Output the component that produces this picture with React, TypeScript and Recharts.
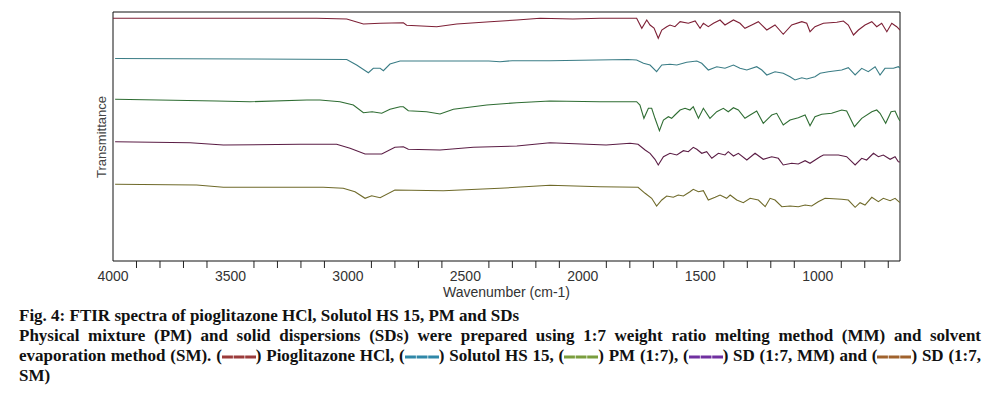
import { LineChart, Line, XAxis, YAxis, ReferenceArea } from 'recharts'

// wavenumber (cm-1), transmittance (arbitrary, spectra stacked)
const pioglitazoneHCl: [number, number][] = [
  [4000, 242.7], [3630, 242.7], [3133, 242.7], [3005, 242], [2934, 237], [2863, 237.7],
  [2764, 238.3], [2750, 235.7], [2622, 234.3], [2537, 237], [2395, 239.3], [2281, 241],
  [2182, 242.7], [2042, 242], [1927, 242.7], [1771, 242.7], [1749, 232.7], [1728, 241],
  [1714, 236], [1697, 233], [1679, 222.7], [1664, 231], [1643, 234.3], [1629, 236],
  [1608, 234.3], [1586, 239.3], [1551, 237.7], [1522, 240], [1501, 232.7], [1487, 237.7],
  [1466, 234.3], [1444, 237.7], [1416, 241], [1395, 236], [1359, 241], [1331, 237.7],
  [1310, 232.7], [1281, 236], [1253, 239.3], [1217, 231], [1182, 236], [1147, 226.7],
  [1111, 236], [1068, 239.3], [1047, 237.7], [1033, 229.3], [1012, 234.3], [976, 237.7],
  [919, 238.7], [891, 240], [870, 236], [848, 226], [827, 231], [799, 236], [770, 239.3],
  [749, 234.3], [728, 237.7], [706, 229.3], [685, 237.7], [664, 234.3], [650, 231],
]

const solutolHS15: [number, number][] = [
  [3991, 202.5], [3417, 202], [3005, 201.5], [2963, 196], [2913, 188.3], [2892, 192.7],
  [2863, 192.7], [2849, 190.3], [2821, 197], [2778, 200], [2400, 200], [2353, 199.3],
  [2300, 200.3], [2140, 200.3], [1808, 201.5], [1771, 201], [1742, 197.7], [1714, 196],
  [1686, 189.3], [1664, 196], [1629, 196.7], [1600, 196], [1558, 198.7], [1515, 200],
  [1494, 197.7], [1466, 191], [1430, 194.3], [1395, 192.7], [1359, 196], [1331, 192.7],
  [1302, 191], [1260, 194.3], [1238, 191], [1217, 186], [1182, 189.3], [1147, 187.7],
  [1118, 184.3], [1097, 181], [1068, 183.3], [1047, 182], [1012, 184.3], [990, 187.7],
  [955, 189.3], [898, 191], [870, 193.3], [841, 186], [813, 192.7], [785, 189.3],
  [756, 194.3], [735, 186], [714, 192.7], [678, 192.7], [657, 194.3], [650, 193],
]

const physicalMixture: [number, number][] = [
  [3991, 161.7], [3559, 160], [3417, 159.3], [3175, 161], [3119, 161], [3034, 159.3],
  [2977, 156], [2934, 148.3], [2897, 149.3], [2856, 147.7], [2821, 151.7], [2778, 154.3],
  [2764, 154.3], [2743, 150.3], [2665, 149.3], [2608, 147], [2551, 151.7], [2409, 156],
  [2281, 158.3], [2140, 160], [1927, 159.3], [1771, 159.3], [1757, 156], [1740, 142.7],
  [1721, 152.7], [1707, 152.7], [1693, 142.7], [1674, 130.3], [1657, 141], [1636, 144.3],
  [1622, 142.7], [1608, 146], [1586, 151], [1565, 152.7], [1544, 151], [1530, 154.3],
  [1508, 142.7], [1487, 152.7], [1459, 142.7], [1430, 149.3], [1402, 152.7], [1381, 149.3],
  [1359, 153.3], [1338, 151], [1310, 142.7], [1288, 146], [1260, 150], [1232, 137.7],
  [1203, 144.3], [1196, 146], [1175, 147.7], [1147, 136], [1118, 141], [1083, 143.3],
  [1054, 146], [1033, 135.3], [1012, 144.3], [983, 146.7], [941, 147.7], [898, 151],
  [877, 150], [844, 134.3], [813, 142.7], [770, 149.3], [749, 151], [735, 147.7],
  [711, 137.7], [688, 149.3], [671, 150], [657, 142.7], [650, 140],
]

const sdMeltingMethod: [number, number][] = [
  [3991, 119.3], [3672, 118.3], [3530, 116], [3204, 116.7], [3048, 116.7], [2991, 112.7],
  [2927, 107], [2856, 107], [2800, 113.7], [2764, 114.3], [2743, 111.7], [2608, 111],
  [2466, 113.7], [2281, 115], [2140, 118.3], [1901, 116], [1799, 117.7], [1765, 116.7],
  [1735, 111], [1714, 107.7], [1693, 101.7], [1679, 96], [1657, 104.3], [1629, 107.7],
  [1600, 106], [1572, 110.3], [1551, 109.3], [1530, 113.7], [1515, 111.7], [1494, 107.7],
  [1473, 109.3], [1451, 102.7], [1423, 107.7], [1395, 106], [1381, 109.3], [1359, 105],
  [1338, 107.7], [1302, 101], [1267, 107.7], [1232, 101.7], [1196, 104.3], [1168, 102.7],
  [1147, 96], [1111, 97.7], [1083, 97], [1054, 100.3], [1033, 97.7], [990, 104.3],
  [976, 106], [912, 106], [877, 104.3], [841, 96], [813, 102.7], [792, 101], [763, 107.7],
  [742, 104.3], [721, 106], [692, 101.7], [671, 104.3], [657, 99.3], [650, 99],
]

const sdSolventMethod: [number, number][] = [
  [3991, 76.7], [3644, 76], [3530, 73.7], [3105, 73.7], [3020, 72.7], [2970, 69.3],
  [2927, 62.7], [2899, 65.3], [2863, 63.3], [2800, 71], [2594, 70.3], [2353, 72.7],
  [2140, 75.7], [1927, 74.3], [1765, 73.7], [1735, 67.7], [1707, 62.7], [1686, 55],
  [1664, 61], [1643, 65], [1615, 63.7], [1594, 66], [1572, 65], [1544, 69.3], [1530, 71.7],
  [1508, 69.3], [1487, 70.3], [1466, 61], [1437, 63.7], [1416, 66], [1388, 62.7],
  [1373, 66], [1345, 61], [1317, 58.3], [1288, 62.7], [1253, 61], [1224, 54.3],
  [1203, 62.7], [1182, 61], [1153, 54.3], [1118, 55], [1083, 54.3], [1054, 56], [1026, 55],
  [998, 59.3], [969, 62.7], [898, 61.7], [870, 61], [841, 53.7], [820, 58.3], [799, 56],
  [770, 63.7], [742, 59.3], [721, 62.7], [692, 60.3], [671, 62.7], [650, 58.3],
]

const WAVENUMBER_TICKS = [
  4000, 3900, 3800, 3700, 3600, 3500, 3400, 3300, 3200, 3100, 3000, 2900, 2800, 2700,
  2600, 2500, 2400, 2300, 2200, 2100, 2000, 1900, 1800, 1700, 1600, 1500, 1400, 1300,
  1200, 1100, 1000, 900, 800, 700,
]

const SERIES = [
  { key: 'pio', data: pioglitazoneHCl, color: '#7d1f35' },
  { key: 'sol', data: solutolHS15, color: '#3b7d86' },
  { key: 'pm', data: physicalMixture, color: '#2f6d33' },
  { key: 'mm', data: sdMeltingMethod, color: '#5b1d45' },
  { key: 'sm', data: sdSolventMethod, color: '#6f6a2a' },
]

// colours of the key swatches in the caption
const KEY_COLORS = ['#9b3b3b', '#3088a8', '#7a9e3e', '#7030a0', '#a0622d']

const AXIS_FONT = '"Liberation Sans", Arial, sans-serif'
const CAPTION_FONT = '"Liberation Serif", "Times New Roman", serif'

// labels only on multiples of 500, short ticks elsewhere
function WaveTick({ x, y, payload }: any) {
  const v = payload.value
  if (v % 500 === 0) {
    return (
      <text x={x} y={y + 13} textAnchor="middle" fontSize={14} fill="#333" fontFamily={AXIS_FONT}>
        {v}
      </text>
    )
  }
  return <line x1={x} x2={x} y1={y - 7} y2={y} stroke="#222" strokeWidth={1} />
}

function Swatch({ color }: { color: string }) {
  return (
    <svg width={34} height={6} style={{ verticalAlign: 'middle' }}>
      <line x1={0} x2={34} y1={3} y2={3} stroke={color} strokeWidth={3.2} strokeDasharray="10.9 0.7" />
    </svg>
  )
}

export default function App() {
  return (
    <div
      style={{
        position: 'absolute',
        left: 0,
        top: 0,
        width: 999,
        height: 393,
        background: '#fff',
        fontFamily: AXIS_FONT,
      }}
    >
      <LineChart width={999} height={300} margin={{ top: 12, right: 99, left: 113, bottom: 3 }}>
        <XAxis
          type="number"
          dataKey="w"
          domain={[650, 4000]}
          reversed
          allowDataOverflow
          ticks={WAVENUMBER_TICKS}
          interval={0}
          tick={<WaveTick />}
          tickSize={7}
          tickMargin={0}
          tickLine={false}
          axisLine={false}
          height={36}
          label={{ value: 'Wavenumber (cm-1)', position: 'insideBottom', offset: 0, fontSize: 14, fill: '#333' }}
        />
        <YAxis type="number" domain={[0, 249]} hide allowDataOverflow />
        <ReferenceArea x1={650} x2={4000} y1={0} y2={249} stroke="#111" strokeWidth={1} fill="none" fillOpacity={0} />
        {SERIES.map(s => (
          <Line
            key={s.key}
            data={s.data.map(([w, t]) => ({ w, t }))}
            dataKey="t"
            type="linear"
            stroke={s.color}
            strokeWidth={1.1}
            dot={false}
            activeDot={false}
            isAnimationActive={false}
          />
        ))}
      </LineChart>

      <div
        style={{
          position: 'absolute',
          left: 102,
          top: 136.5,
          transform: 'translate(-50%, -50%) rotate(-90deg)',
          fontSize: 13,
          color: '#444',
          whiteSpace: 'nowrap',
          lineHeight: '14px',
        }}
      >
        Transmittance
      </div>

      <div
        style={{
          position: 'absolute',
          left: 19,
          top: 306,
          width: 962,
          fontFamily: CAPTION_FONT,
          fontWeight: 'bold',
          fontSize: 17,
          lineHeight: '20px',
          color: '#111',
        }}
      >
        <div>Fig. 4: FTIR spectra of pioglitazone HCl, Solutol HS 15, PM and SDs</div>
        <div style={{ textAlign: 'justify', textAlignLast: 'justify' }}>
          Physical mixture (PM) and solid dispersions (SDs) were prepared using 1:7 weight ratio melting method (MM) and solvent
        </div>
        <div style={{ textAlign: 'justify', textAlignLast: 'justify', whiteSpace: 'nowrap' }}>
          evaporation method (SM). (<Swatch color={KEY_COLORS[0]} />) Pioglitazone HCl, (<Swatch color={KEY_COLORS[1]} />) Solutol HS 15, (<Swatch color={KEY_COLORS[2]} />) PM (1:7), (<Swatch color={KEY_COLORS[3]} />) SD (1:7, MM) and (<Swatch color={KEY_COLORS[4]} />) SD (1:7,
        </div>
        <div>SM)</div>
      </div>
    </div>
  )
}
